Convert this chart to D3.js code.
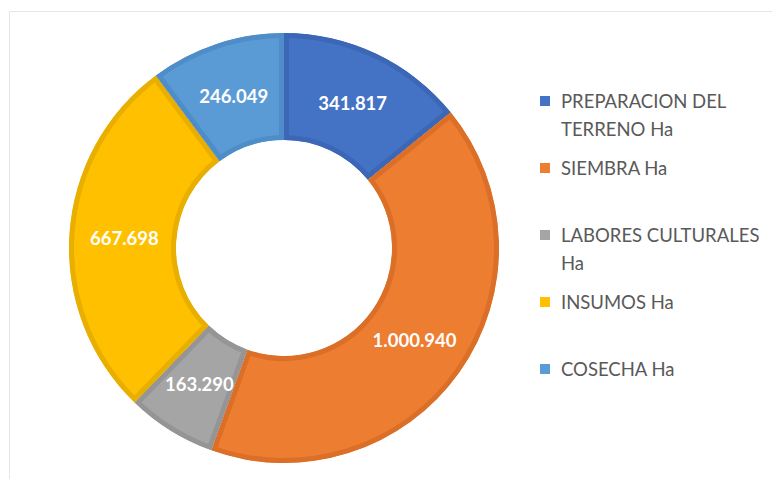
<!DOCTYPE html>
<html>
<head>
<meta charset="utf-8">
<script src="https://cdn.jsdelivr.net/npm/d3@7"></script>
<style>
  html, body { margin: 0; padding: 0; background: #ffffff; }
  svg { display: block; }
</style>
</head>
<body>
<svg id="chart" width="772" height="479"></svg>
<script>
// Hectares per agricultural activity
const categories = [
  "PREPARACION DEL TERRENO Ha",
  "SIEMBRA Ha",
  "LABORES CULTURALES Ha",
  "INSUMOS Ha",
  "COSECHA Ha"
];
const values = [341817, 1000940, 163290, 667698, 246049];
const valueLabels = ["341.817", "1.000.940", "163.290", "667.698", "246.049"];
// Legend text, pre-wrapped as it is laid out
const legendLines = [
  ["PREPARACION DEL", "TERRENO Ha"],
  ["SIEMBRA Ha"],
  ["LABORES CULTURALES", "Ha"],
  ["INSUMOS Ha"],
  ["COSECHA Ha"]
];
const fillColors = ["#4472C4", "#ED7D31", "#A5A5A5", "#FFC000", "#5B9BD5"];
const edgeColors = ["#3C67B6", "#DB6F27", "#959595", "#E8AE00", "#4F8DC8"];

const svg = d3.select("#chart");
const W = 772, H = 479;

// faint chart-area frame (top and left edges)
svg.append("line").attr("x1", 9.5).attr("x2", W).attr("y1", 11.5).attr("y2", 11.5)
  .attr("stroke", "#e6e6e6").attr("stroke-width", 1);
svg.append("line").attr("x1", 9.5).attr("x2", 9.5).attr("y1", 11.5).attr("y2", H)
  .attr("stroke", "#e6e6e6").attr("stroke-width", 1);

const cx = 284, cy = 248;
const outerR = 215, innerR = 108;

const pie = d3.pie().sort(null).value(d => d.value);
const data = categories.map((c, i) => ({ name: c, value: values[i], label: valueLabels[i], i }));
const arcs = pie(data);
const arc = d3.arc().innerRadius(innerR).outerRadius(outerR);
const labelArc = d3.arc().innerRadius(160).outerRadius(160);

const defs = svg.append("defs");
const g = svg.append("g").attr("transform", `translate(${cx},${cy})`);

arcs.forEach((a, k) => {
  defs.append("clipPath").attr("id", "clip" + k)
    .append("path").attr("d", arc(a));
});

// slices with an inset darker edge band
g.selectAll("path.slice").data(arcs).enter().append("path")
  .attr("class", "slice")
  .attr("d", arc)
  .attr("fill", d => fillColors[d.data.i])
  .attr("stroke", d => edgeColors[d.data.i])
  .attr("stroke-width", 10)
  .attr("stroke-linejoin", "miter")
  .attr("clip-path", (d, k) => `url(#clip${k})`);

// value labels
g.selectAll("text.val").data(arcs).enter().append("text")
  .attr("class", "val")
  .attr("transform", d => `translate(${labelArc.centroid(d)})`)
  .attr("text-anchor", "middle")
  .attr("dominant-baseline", "central")
  .attr("font-family", "Lato, 'Open Sans', sans-serif")
  .attr("font-weight", "bold")
  .attr("font-size", 18.5)
  .attr("fill", "#ffffff")
  .text(d => d.data.label);

// legend
const legendX = 540, legendTop = 101, legendStep = 67, lineStep = 27.5;
const leg = svg.append("g");
legendLines.forEach((lines, i) => {
  const y = legendTop + i * legendStep;
  leg.append("rect")
    .attr("x", legendX).attr("y", y - 5)
    .attr("width", 10).attr("height", 10)
    .attr("fill", fillColors[i]);
  lines.forEach((t, j) => {
    leg.append("text")
      .attr("x", legendX + 21)
      .attr("y", y + j * lineStep)
      .attr("dominant-baseline", "central")
      .attr("font-family", "Lato, 'Open Sans', sans-serif")
      .attr("font-size", 18.5)
      .attr("fill", "#595959")
      .text(t);
  });
});
</script>
</body>
</html>
